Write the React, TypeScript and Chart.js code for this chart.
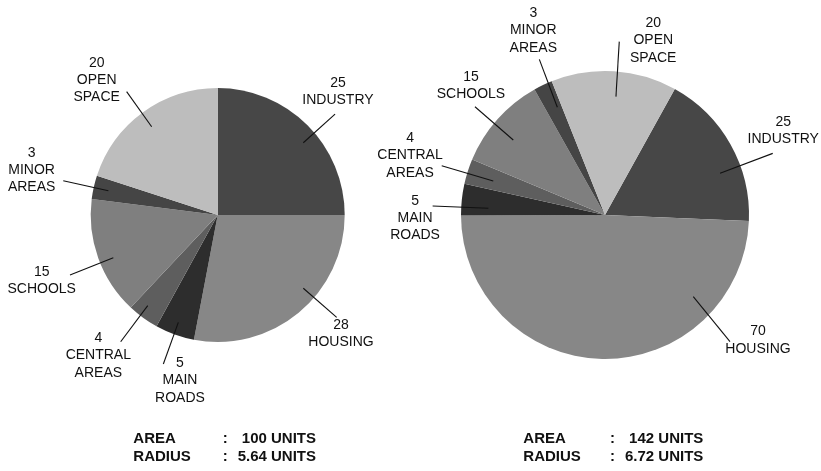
import React, { useEffect, useRef } from 'react';
import { Chart, registerables } from 'chart.js';

Chart.register(...registerables);

// ---- data ----
const categories = ['INDUSTRY', 'HOUSING', 'MAIN ROADS', 'CENTRAL AREAS', 'SCHOOLS', 'MINOR AREAS', 'OPEN SPACE'];
const labelLines = [['INDUSTRY'], ['HOUSING'], ['MAIN', 'ROADS'], ['CENTRAL', 'AREAS'], ['SCHOOLS'], ['MINOR', 'AREAS'], ['OPEN', 'SPACE']];
const leftValues = [25, 28, 5, 4, 15, 3, 20];
const rightValues = [25, 70, 5, 4, 15, 3, 20];
const summaryLabels = ['AREA', 'RADIUS'];
const leftSummary = ['100 UNITS', '5.64 UNITS'];
const rightSummary = ['142 UNITS', '6.72 UNITS'];

// ---- style ----
const sliceColors = ['#474747', '#878787', '#2d2d2d', '#5e5e5e', '#7f7f7f', '#454545', '#bdbdbd'];
const FONT = '"Liberation Sans", Arial, Helvetica, sans-serif';

// callout layout, in units of the pie radius relative to its centre:
// [textX, textY(first line), leaderOuterX, leaderOuterY, leaderInnerX, leaderInnerY]
const leftCallouts = [
  [0.947, -1.037, 0.924, -0.795, 0.674, -0.569],
  [0.971, 0.866, 0.937, 0.806, 0.674, 0.577],
  [-0.297, 1.168, -0.428, 1.173, -0.310, 0.845],
  [-0.940, 0.971, -0.764, 0.998, -0.551, 0.714],
  [-1.386, 0.446, -1.163, 0.472, -0.822, 0.336],
  [-1.465, -0.488, -1.216, -0.270, -0.861, -0.191],
  [-0.953, -1.199, -0.717, -0.971, -0.520, -0.695],
];
const rightCallouts = [
  [1.238, -0.648, 1.165, -0.428, 0.799, -0.290],
  [1.0625, 0.810, 0.868, 0.880, 0.613, 0.567],
  [-1.319, -0.097, -1.197, -0.0625, -0.810, -0.047],
  [-1.354, -0.533, -1.134, -0.342, -0.776, -0.236],
  [-0.931, -0.960, -0.903, -0.752, -0.637, -0.521],
  [-0.498, -1.401, -0.456, -1.081, -0.331, -0.748],
  [0.335, -1.331, 0.099, -1.204, 0.076, -0.822],
];

const calloutPlugin = {
  id: 'callouts',
  afterDraw(chart: any, _args: any, opts: any) {
    const arc: any = chart.getDatasetMeta(0).data[0];
    if (!arc) return;
    const cx = arc.x, cy = arc.y, r = arc.outerRadius;
    const ctx = chart.ctx;
    const values = chart.data.datasets[0].data;
    ctx.save();
    ctx.strokeStyle = '#111';
    ctx.fillStyle = '#111';
    ctx.lineWidth = 1.1;
    ctx.font = `14px ${FONT}`;
    ctx.textAlign = 'center';
    ctx.textBaseline = 'middle';
    opts.callouts.forEach((c: number[], i: number) => {
      const [tx, ty, ox, oy, ix, iy] = c;
      ctx.beginPath();
      ctx.moveTo(cx + ix * r, cy + iy * r);
      ctx.lineTo(cx + ox * r, cy + oy * r);
      ctx.stroke();
      const lines = [String(values[i]), ...labelLines[i]];
      lines.forEach((l, k) => ctx.fillText(l, cx + tx * r, cy + ty * r + k * 17.2));
    });
    ctx.font = `bold 15px ${FONT}`;
    opts.summary.forEach((v: string, k: number) => {
      const y = cy + 224.3 + k * 17.4;
      ctx.textAlign = 'left';
      ctx.fillText(summaryLabels[k], cx + opts.labelDx, y);
      ctx.textAlign = 'center';
      ctx.fillText(':', cx + 7.5, y);
      ctx.textAlign = 'right';
      ctx.fillText(v, cx + 98.3, y);
    });
    ctx.restore();
  },
};

function PieCanvas(props: { values: number[]; rotation: number; padding: any; callouts: number[][]; summary: string[]; labelDx: number }) {
  const ref = useRef<HTMLCanvasElement>(null);
  useEffect(() => {
    if (!ref.current) return;
    const chart = new Chart(ref.current, {
      type: 'pie',
      data: {
        labels: categories,
        datasets: [
          {
            data: props.values,
            backgroundColor: sliceColors,
            borderWidth: 0,
          },
        ],
      },
      options: {
        responsive: false,
        animation: false,
        devicePixelRatio: 1,
        rotation: props.rotation,
        layout: { padding: props.padding },
        plugins: {
          legend: { display: false },
          tooltip: { enabled: false },
          callouts: { callouts: props.callouts, summary: props.summary, labelDx: props.labelDx },
        } as any,
      },
      plugins: [calloutPlugin],
    });
    return () => chart.destroy();
  }, []);
  return (
    <canvas
      ref={ref}
      width={821}
      height={471}
      style={{ position: 'absolute', left: 0, top: 0, width: 821, height: 471 }}
    />
  );
}

export default function App() {
  return (
    <div style={{ position: 'absolute', left: 0, top: 0, width: 821, height: 471, background: '#fff', overflow: 'hidden' }}>
      <PieCanvas
        values={leftValues}
        rotation={0}
        padding={{ left: 90.7, right: 476.3, top: 88, bottom: 129 }}
        callouts={leftCallouts}
        summary={leftSummary}
        labelDx={-84.4}
      />
      <PieCanvas
        values={rightValues}
        rotation={29}
        padding={{ left: 461, right: 72, top: 71, bottom: 112 }}
        callouts={rightCallouts}
        summary={rightSummary}
        labelDx={-81.7}
      />
    </div>
  );
}
